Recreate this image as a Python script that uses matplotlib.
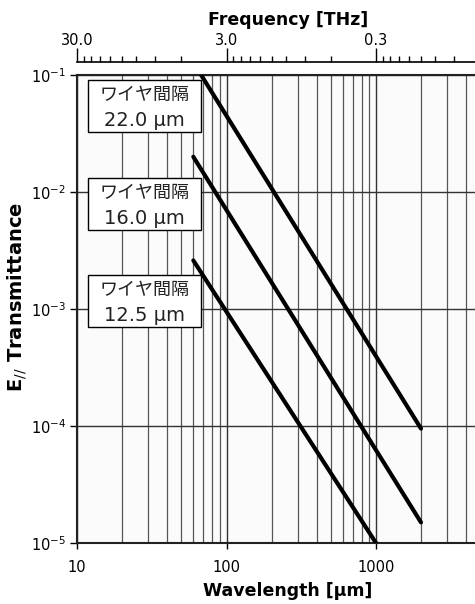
import numpy as np
import matplotlib.pyplot as plt
from matplotlib.patches import Rectangle
from matplotlib.ticker import FixedLocator, NullFormatter, LogLocator

plt.rcParams['font.family'] = ['DejaVu Sans', 'Noto Sans CJK JP']

# wavelength [um] and E// transmittance for each wire spacing
wl_22 = [60, 2000]
tr_22 = [0.128, 9.5e-5]
wl_16 = [60, 2000]
tr_16 = [0.020, 1.5e-5]
wl_12 = [60, 1000]
tr_12 = [2.6e-3, 1.0e-5]

label_head = 'ワイヤ間隔'
label_gap = ['22.0 μm', '16.0 μm', '12.5 μm']
label_y = [0.934, 0.724, 0.517]

freq_major = [30.0, 3.0, 0.3]
freq_major_labels = ['30.0', '3.0', '0.3']

W, H = 475, 604
ax_w, ax_h = 422, 468  # axes runs past the right edge of the picture
fig = plt.figure(figsize=(4.75, 6.04), dpi=100)
ax = fig.add_axes([77/W, 61/H, ax_w/W, ax_h/H])
ax.set_facecolor('#fbfbfb')

for wl, tr in [(wl_22, tr_22), (wl_16, tr_16), (wl_12, tr_12)]:
    ax.plot(wl, tr, color='black', lw=3.0, solid_capstyle='round', zorder=3)

ax.set_xscale('log')
ax.set_yscale('log')
ax.set_xlim(10, 10 ** (1 + ax_w / 149.5))
ax.set_ylim(1e-5, 1e-1)

ax.xaxis.set_minor_locator(LogLocator(base=10, subs=np.arange(2, 10)))
ax.xaxis.set_minor_formatter(NullFormatter())
ax.set_xticks([10, 100, 1000])
ax.set_xticklabels(['10', '100', '1000'])
ax.set_yticks([1e-5, 1e-4, 1e-3, 1e-2, 1e-1])
ax.set_yticklabels([r'$10^{\mathregular{-5}}$', r'$10^{\mathregular{-4}}$', r'$10^{\mathregular{-3}}$',
                    r'$10^{\mathregular{-2}}$', r'$10^{\mathregular{-1}}$'])
ax.yaxis.set_minor_locator(FixedLocator([]))

ax.grid(True, which='major', axis='both', color='#333333', lw=1.0)
ax.grid(True, which='minor', axis='x', color='#555555', lw=0.9)
ax.tick_params(axis='x', which='major', direction='out', length=4, width=1, labelsize=10.5, pad=8)
ax.tick_params(axis='x', which='minor', length=0)
ax.tick_params(axis='y', which='major', direction='out', length=5, width=1, labelsize=10.5, pad=3)
ax.spines['right'].set_visible(False)
for s in ['left', 'bottom', 'top']:
    ax.spines[s].set_linewidth(1.5)
    ax.spines[s].set_color('#222222')

ax.set_xlabel('Wavelength [μm]', fontsize=12.5, fontweight='bold', labelpad=5)
ax.set_ylabel(r'E$_{//}$ Transmittance', fontsize=14, fontweight='bold')
ax.yaxis.set_label_coords(-48 / ax_w, (543 - 297) / ax_h)

# label boxes
bx0, bw, bh = 11 / ax_w, 113 / ax_w, 52 / ax_h
cx = bx0 + bw / 2
for gap, y in zip(label_gap, label_y):
    ax.add_patch(Rectangle((bx0, y - bh / 2), bw, bh, transform=ax.transAxes,
                           fc='white', ec='black', lw=1.0, zorder=4))
    ax.text(cx, y + 11 / ax_h, label_head, transform=ax.transAxes, ha='center', va='center',
            fontsize=13, color='#222222', family=['Noto Sans CJK JP', 'DejaVu Sans'], zorder=5)
    ax.text(cx, y - 20 / ax_h, gap, transform=ax.transAxes, ha='center', va='baseline',
            fontsize=14, color='#222222', zorder=5)

# top axis: frequency in THz
sec = ax.secondary_xaxis(1 + 13 / ax_h, functions=(lambda x: 300 / x, lambda x: 300 / x))
sec.set_xticks(freq_major)
sec.set_xticklabels(freq_major_labels)
minor_f = [3 * k * 10.0 ** n for n in [-2, -1, 0] for k in range(2, 10)]
sec.xaxis.set_minor_locator(FixedLocator(minor_f))
sec.xaxis.set_minor_formatter(NullFormatter())
sec.tick_params(which='major', direction='out', length=10, width=1, labelsize=10.5, pad=0)
sec.tick_params(which='minor', direction='out', length=4, width=1)
sec.spines['top'].set_linewidth(1.2)
sec.set_xlabel('Frequency [THz]', fontsize=12.5, fontweight='bold', labelpad=6)

fig.savefig('out.png', dpi=100)
